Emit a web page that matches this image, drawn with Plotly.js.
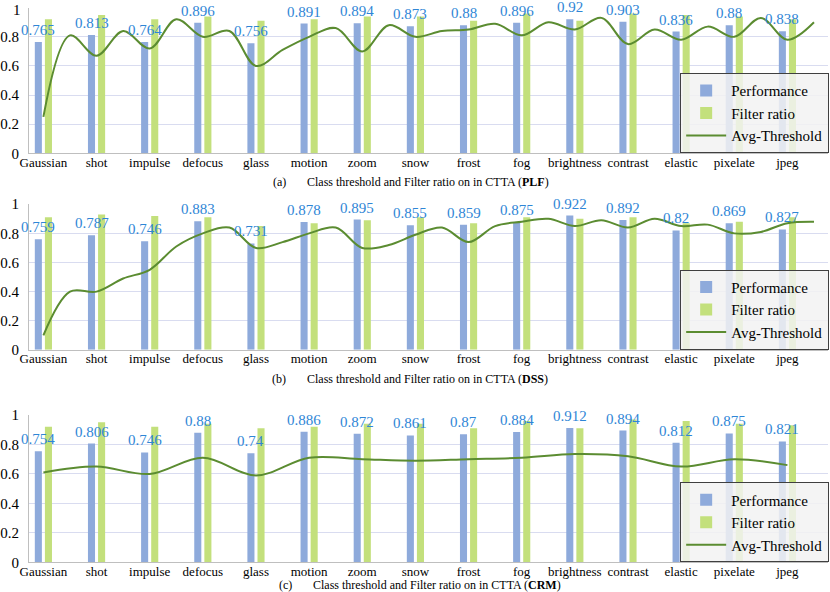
<!DOCTYPE html>
<html>
<head>
<meta charset="utf-8">
<script src="https://cdn.plot.ly/plotly-3.0.1.min.js"></script>
<style>
  body { margin: 0; padding: 0; background: #fff; }
  #myDiv { width: 830px; height: 592px; }
</style>
</head>
<body>
<div id="myDiv"></div>
<script>
var categories = ['Gaussian', 'shot', 'impulse', 'defocus', 'glass', 'motion', 'zoom', 'snow',
  'frost', 'fog', 'brightness', 'contrast', 'elastic', 'pixelate', 'jpeg'];

// (a) PLF
var plfPerf = [0.765, 0.813, 0.764, 0.896, 0.756, 0.891, 0.894, 0.873, 0.88, 0.896, 0.92, 0.903, 0.836, 0.88, 0.838];
var plfFilter = [0.92, 0.95, 0.92, 0.94, 0.91, 0.92, 0.94, 0.94, 0.91, 0.96, 0.91, 0.96, 0.95, 0.94, 0.92];
var plfThresh = [0.25, 0.81, 0.67, 0.84, 0.72, 0.92, 0.80, 0.84, 0.60, 0.71, 0.80, 0.86, 0.70, 0.88, 0.80,
  0.84, 0.85, 0.89, 0.81, 0.90, 0.85, 0.93, 0.75, 0.85, 0.78, 0.87, 0.80, 0.93, 0.78, 0.90];

// (b) DSS
var dssPerf = [0.759, 0.787, 0.746, 0.883, 0.731, 0.878, 0.895, 0.855, 0.859, 0.875, 0.922, 0.892, 0.82, 0.869, 0.827];
var dssFilter = [0.91, 0.93, 0.92, 0.91, 0.85, 0.87, 0.89, 0.91, 0.87, 0.91, 0.90, 0.91, 0.87, 0.88, 0.91];
var dssThresh = [0.10, 0.40, 0.40, 0.49, 0.55, 0.71, 0.80, 0.84, 0.70, 0.74, 0.80, 0.84, 0.70, 0.72, 0.79,
  0.84, 0.74, 0.85, 0.88, 0.90, 0.85, 0.89, 0.84, 0.90, 0.85, 0.86, 0.80, 0.81, 0.87, 0.88];

// (c) CRM
var crmPerf = [0.754, 0.806, 0.746, 0.88, 0.74, 0.886, 0.872, 0.861, 0.87, 0.884, 0.912, 0.894, 0.812, 0.875, 0.821];
var crmFilter = [0.92, 0.95, 0.92, 0.94, 0.91, 0.92, 0.94, 0.94, 0.91, 0.96, 0.91, 0.97, 0.96, 0.94, 0.93];
var crmThresh = [0.61, 0.65, 0.60, 0.71, 0.59, 0.71, 0.70, 0.69, 0.70, 0.71, 0.735, 0.72, 0.65, 0.70, 0.66];

var panels = [
  {perf: plfPerf, filter: plfFilter, thresh: plfThresh, tag: '(a)', name: 'PLF', dom: [0.741, 0.987], capY: 182, capX: 305},
  {perf: dssPerf, filter: dssFilter, thresh: dssThresh, tag: '(b)', name: 'DSS', dom: [0.409, 0.655], capY: 379, capX: 305},
  {perf: crmPerf, filter: crmFilter, thresh: crmThresh, tag: '(c)', name: 'CRM', dom: [0.050, 0.299], capY: 585, capX: 311}
];

var serif = 'Liberation Serif';
var idx = categories.map(function (c, i) { return i; });
var yTicks = [0, 0.2, 0.4, 0.6, 0.8, 1];
var yTickText = ['0', '0.2', '0.4', '0.6', '0.8', '1'];

var data = [];
var layout = {
  width: 830,
  height: 592,
  margin: {l: 0, r: 0, t: 0, b: 0},
  paper_bgcolor: '#fff',
  plot_bgcolor: '#fff',
  barmode: 'group',
  bargap: 0.62,
  bargroupgap: 0.3,
  font: {family: serif, color: '#000'},
  annotations: []
};

for (var p = 0; p < panels.length; p++) {
  var pn = panels[p];
  var sfx = p === 0 ? '' : String(p + 1);
  var xa = 'x' + sfx, ya = 'y' + sfx;
  var lg = 'legend' + sfx;

  var step = categories.length / pn.thresh.length;
  var tx = pn.thresh.map(function (v, i) { return i * step; });

  data.push({
    type: 'bar', x: idx, y: pn.perf, name: 'Performance', xaxis: xa, yaxis: ya, legend: lg,
    marker: {color: '#8eaadb'}, hoverinfo: 'y'
  });
  data.push({
    type: 'bar', x: idx, y: pn.filter, name: 'Filter ratio', xaxis: xa, yaxis: ya, legend: lg,
    marker: {color: '#c3e07c'}, hoverinfo: 'y'
  });
  data.push({
    type: 'scatter', mode: 'lines', x: tx, y: pn.thresh, name: 'Avg-Threshold', xaxis: xa, yaxis: ya, legend: lg,
    line: {color: '#5b8c31', width: 2, shape: 'spline', smoothing: 1}
  });

  // plotly drops the top label of the first panel (it touches the page edge),
  // so that one is written as a paper annotation pinned to the top instead
  var tt = yTickText.slice();
  if (p === 0) {
    tt[tt.length - 1] = '';
    layout.annotations.push({
      xref: 'paper', yref: 'paper', x: 0.035, y: 1,
      xanchor: 'right', yanchor: 'top', xshift: -6,
      text: yTickText[yTickText.length - 1], showarrow: false,
      font: {family: serif, size: 15, color: '#000'}
    });
  }

  layout['xaxis' + sfx] = {
    domain: [0.035, 0.998],
    anchor: ya,
    range: [-0.27, 14.77],
    tickvals: idx,
    ticktext: categories,
    ticks: '',
    showgrid: false,
    zeroline: false,
    showline: true,
    linecolor: '#bfbfbf',
    linewidth: 1,
    ticklabelstandoff: -3,
    tickfont: {family: serif, size: 13, color: '#000'}
  };
  layout['yaxis' + sfx] = {
    domain: pn.dom,
    anchor: xa,
    range: [0, 1],
    tickvals: yTicks,
    ticktext: tt,
    ticks: '',
    showgrid: true,
    gridcolor: '#d9dcf0',
    gridwidth: 1,
    zeroline: false,
    showline: true,
    linecolor: '#bfbfbf',
    linewidth: 1,
    ticklabeloverflow: 'allow',
    ticklabelstandoff: 6,
    tickfont: {family: serif, size: 15, color: '#000'}
  };
  layout[lg] = {
    x: 0.999, xanchor: 'right',
    y: pn.dom[0], yanchor: 'bottom',
    bgcolor: 'rgba(242,242,242,0.85)',
    bordercolor: '#404040',
    borderwidth: 1,
    font: {family: serif, size: 15, color: '#000'},
    tracegroupgap: 0,
    itemwidth: 40
  };

  // value labels above the Performance bars
  for (var i = 0; i < pn.perf.length; i++) {
    layout.annotations.push({
      xref: xa, yref: ya, x: i, y: pn.perf[i],
      text: String(pn.perf[i]),
      showarrow: false, xanchor: 'center', yanchor: 'bottom',
      xshift: -5, yshift: 2,
      font: {family: serif, size: 15, color: '#2f86d6'}
    });
  }

  // caption
  layout.annotations.push({
    xref: 'paper', yref: 'paper', x: (pn.capX - 17) / 830, y: 1 - pn.capY / 592,
    text: pn.tag, showarrow: false, xanchor: 'right', yanchor: 'middle',
    font: {family: serif, size: 12, color: '#000'}
  });
  layout.annotations.push({
    xref: 'paper', yref: 'paper', x: pn.capX / 830, y: 1 - pn.capY / 592,
    text: 'Class threshold and Filter ratio on in CTTA (<b>' + pn.name + '</b>)',
    showarrow: false, xanchor: 'left', yanchor: 'middle',
    font: {family: serif, size: 12, color: '#000'}
  });
}

Plotly.newPlot('myDiv', data, layout, {displayModeBar: false});
</script>
</body>
</html>
